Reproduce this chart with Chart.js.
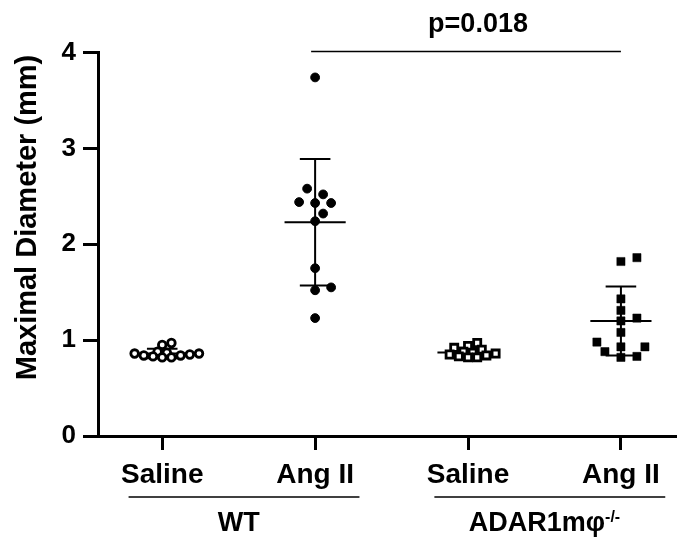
<!DOCTYPE html>
<html><head><meta charset="utf-8">
<script src="https://cdn.jsdelivr.net/npm/chart.js@4.4.1/dist/chart.umd.min.js"></script>
<style>html,body{margin:0;padding:0;background:#fff;}#wrap{width:683px;height:541px;}</style>
</head><body><div id="wrap"><canvas id="c" width="683" height="541"></canvas></div>
<script>
// ---- data ----
const categories = ['Saline', 'Ang II', 'Saline', 'Ang II'];
const groupNames = ['WT', 'ADAR1mφ'];
const groupSuperscripts = ['', '-/-'];
const groupMembers = [[0, 1], [2, 3]];
const wtSaline = [0.97, 0.95, 0.88, 0.87, 0.86, 0.86, 0.85, 0.84, 0.84, 0.83, 0.82, 0.82];
const wtAngII  = [3.74, 2.58, 2.52, 2.44, 2.43, 2.43, 2.32, 2.24, 1.75, 1.55, 1.52, 1.23];
const koSaline = [0.97, 0.94, 0.92, 0.90, 0.88, 0.87, 0.86, 0.85, 0.84, 0.83, 0.82, 0.82];
const koAngII  = [1.86, 1.82, 1.43, 1.31, 1.23, 1.20, 1.08, 0.98, 0.93, 0.93, 0.88, 0.83, 0.82];
const groupMeans = [0.86, 2.23, 0.87, 1.20];
const groupSDs   = [0.05, 0.66, 0.05, 0.36];
const yTicks = [0, 1, 2, 3, 4];
const yTitle = 'Maximal Diameter (mm)';
const comparisonFrom = 1, comparisonTo = 3, comparisonY = 4.0, comparisonLabel = 'p=0.018';

const series = [wtSaline, wtAngII, koSaline, koAngII];
const FONT = '"Liberation Sans", Arial, Helvetica, sans-serif';

const styles = [
  {pointStyle: 'circle', pointRadius: 3.8, pointBorderWidth: 2.8, pointBackgroundColor: '#fff'},
  {pointStyle: 'circle', pointRadius: 4.4, pointBorderWidth: 1, pointBackgroundColor: '#000'},
  {pointStyle: 'rect', pointRadius: 5.0, pointBorderWidth: 2.8, pointBackgroundColor: '#fff'},
  {pointStyle: 'rect', pointRadius: 5.8, pointBorderWidth: 0.5, pointBackgroundColor: '#000'}
];
// beeswarm spacing (pixels): [step, minimum distance] per series
const swarmSpacing = [[4.6, 6], [8, 10], [4.6, 6], [8, 10]];

function swarm(values, pxPerX, pxPerY, step, minDist) {
  const order = values.map((v, i) => i).sort((a, b) => values[a] - values[b]);
  const placed = [];
  const off = new Array(values.length).fill(0);
  for (const i of order) {
    const yp = values[i] * pxPerY;
    for (let k = 0; k < 60; k++) {
      const o = (k === 0 ? 0 : (k % 2 ? 1 : -1) * Math.ceil(k / 2)) * step;
      if (placed.every(p => Math.hypot(p.x - o, p.y - yp) >= minDist)) {
        off[i] = o / pxPerX; placed.push({x: o, y: yp}); break;
      }
    }
  }
  return off;
}

const annot = {
  id: 'annot',
  beforeDatasetsDraw(chart) {
    const ctx = chart.ctx, xs = chart.scales.x, ys = chart.scales.y;
    ctx.save();
    ctx.strokeStyle = '#000'; ctx.lineWidth = 2;
    groupMeans.forEach((m, i) => {
      const cx = xs.getPixelForValue(i);
      const capW = xs.getPixelForValue(i + 0.1) - cx;
      const meanW = xs.getPixelForValue(i + 0.2) - cx;
      const yt = ys.getPixelForValue(m + groupSDs[i]);
      const yb = ys.getPixelForValue(m - groupSDs[i]);
      const ym = ys.getPixelForValue(m);
      ctx.beginPath();
      ctx.moveTo(cx, yt); ctx.lineTo(cx, yb);
      ctx.moveTo(cx - capW, yt); ctx.lineTo(cx + capW, yt);
      ctx.moveTo(cx - capW, yb); ctx.lineTo(cx + capW, yb);
      ctx.moveTo(cx - meanW, ym); ctx.lineTo(cx + meanW, ym);
      ctx.stroke();
    });
    ctx.restore();
  },
  afterDraw(chart) {
    const ctx = chart.ctx, xs = chart.scales.x, ys = chart.scales.y, area = chart.chartArea;
    ctx.save();
    ctx.fillStyle = '#000'; ctx.strokeStyle = '#000';
    // group underlines and names
    groupMembers.forEach((mem, g) => {
      const x1 = xs.getPixelForValue(mem[0] - 0.22);
      const x2 = xs.getPixelForValue(mem[mem.length - 1] + 0.29);
      const uy = area.bottom + 61;
      ctx.lineWidth = 1.6;
      ctx.beginPath(); ctx.moveTo(x1, uy); ctx.lineTo(x2, uy); ctx.stroke();
      const cx = (xs.getPixelForValue(mem[0]) + xs.getPixelForValue(mem[mem.length - 1])) / 2;
      ctx.font = 'bold 27px ' + FONT;
      const w1 = ctx.measureText(groupNames[g]).width;
      ctx.font = 'bold 16px ' + FONT;
      const w2 = groupSuperscripts[g] ? ctx.measureText(groupSuperscripts[g]).width : 0;
      const sx = cx - (w1 + w2) / 2;
      const by = area.bottom + 95;
      ctx.textAlign = 'left'; ctx.textBaseline = 'alphabetic';
      ctx.font = 'bold 27px ' + FONT;
      ctx.fillText(groupNames[g], sx, by);
      if (groupSuperscripts[g]) {
        ctx.font = 'bold 16px ' + FONT;
        ctx.fillText(groupSuperscripts[g], sx + w1, by - 9);
      }
    });
    // comparison bracket
    const px1 = xs.getPixelForValue(comparisonFrom) - 4, px2 = xs.getPixelForValue(comparisonTo);
    const py = ys.getPixelForValue(comparisonY) - 1;
    ctx.lineWidth = 1.6;
    ctx.beginPath(); ctx.moveTo(px1, py); ctx.lineTo(px2, py); ctx.stroke();
    ctx.font = 'bold 27px ' + FONT;
    ctx.textAlign = 'center'; ctx.textBaseline = 'alphabetic';
    ctx.fillText(comparisonLabel, (px1 + px2) / 2 + 12, py - 19.5);
    // y axis title
    ctx.translate(28, area.top + 165);
    ctx.rotate(-Math.PI / 2);
    ctx.textAlign = 'center'; ctx.textBaseline = 'middle';
    ctx.font = 'bold 29px ' + FONT;
    ctx.fillText(yTitle, 0, 0);
    ctx.restore();
  }
};

const chart = new Chart(document.getElementById('c'), {
  type: 'scatter',
  data: {
    datasets: series.map((vals, i) => Object.assign({
      data: vals.map(v => ({x: i, y: v})),
      borderColor: '#000', pointBorderColor: '#000', pointHoverRadius: 0
    }, styles[i]))
  },
  options: {
    responsive: false, animation: false,
    layout: {padding: {top: 52.5, right: 0, bottom: 0, left: 0}},
    plugins: {legend: {display: false}, tooltip: {enabled: false}},
    scales: {
      x: {
        type: 'linear', min: -0.42, max: 3.355,
        afterBuildTicks: s => { s.ticks = categories.map((c, i) => ({value: i})); },
        afterFit: s => { s.height = 105; },
        border: {color: '#000', width: 3},
        grid: {drawOnChartArea: false, color: '#000', lineWidth: 3, tickLength: 14},
        ticks: {color: '#000', padding: 8, maxRotation: 0, autoSkip: false,
          font: {family: FONT, size: 28, weight: 'bold'},
          callback: (v, i) => categories[i]}
      },
      y: {
        min: 0, max: 4,
        afterBuildTicks: s => { s.ticks = yTicks.map(v => ({value: v})); },
        afterFit: s => { s.width = 98; },
        border: {color: '#000', width: 3},
        grid: {drawOnChartArea: false, color: '#000', lineWidth: 3, tickLength: 15},
        ticks: {color: '#000', padding: 7, font: {family: FONT, size: 26, weight: 'bold'}}
      }
    }
  },
  plugins: [annot]
});

const xs = chart.scales.x, ys = chart.scales.y;
const pxX = xs.getPixelForValue(1) - xs.getPixelForValue(0);
const pxY = ys.getPixelForValue(0) - ys.getPixelForValue(1);
series.forEach((vals, gi) => {
  const off = swarm(vals, pxX, pxY, swarmSpacing[gi][0], swarmSpacing[gi][1]);
  chart.data.datasets[gi].data = vals.map((v, j) => ({x: gi + off[j], y: v}));
});
chart.update('none');
</script></body></html>
